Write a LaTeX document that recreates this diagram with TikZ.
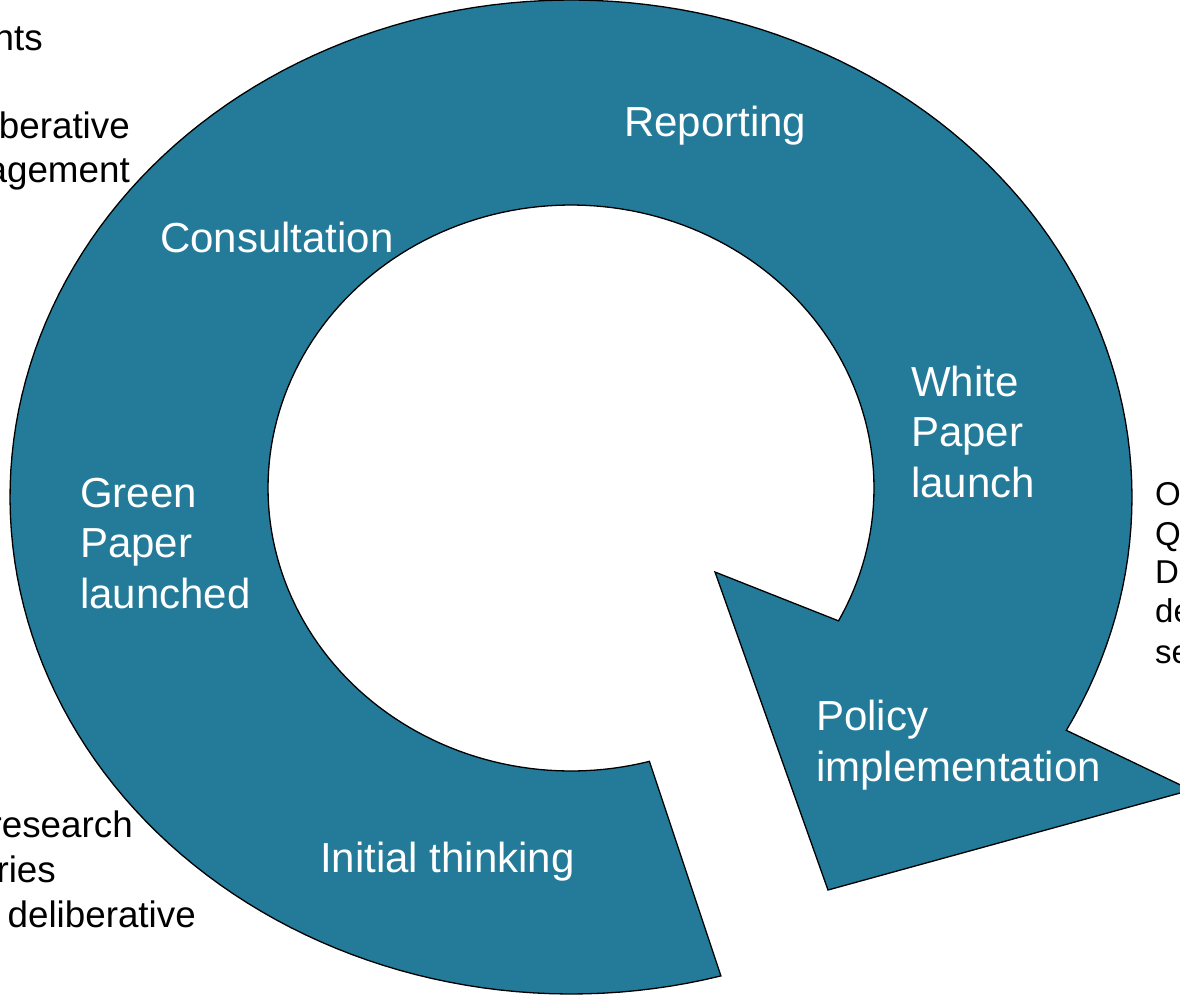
\documentclass[tikz,border=0pt]{standalone}
\usepackage{fontspec}
\setmainfont{Liberation Sans}
\usepackage{tikz}

\definecolor{ringblue}{RGB}{35,123,153}

\begin{document}
\begin{tikzpicture}[x=1pt,y=-1pt,
		stage/.style={text=white,font=\fontsize{42}{50.5}\selectfont,align=left,inner sep=0pt},
		note/.style={text=black,font=\fontsize{36.8}{44}\selectfont,inner sep=0pt},
		sidenote/.style={text=black,font=\fontsize{33}{39.5}\selectfont,inner sep=0pt}]
		\useasboundingbox (0,0) rectangle (1180,997);
		\begin{scope}                           % clip to the page
			\clip (0,0) rectangle (1180,997);
			\filldraw[fill=ringblue, draw=black, line width=1.3pt, line join=miter]
				plot[domain=74.5:388, samples=180] ({571+561*cos(\x)},{497+497*sin(\x)})
				-- (1191,790) -- (828,890) -- (715,572)
				-- plot[domain=388:75, samples=180] ({571+303*cos(\x)},{488+283*sin(\x)})
				-- cycle;
		\end{scope}
		% stages (base = last line)
		\node[stage, anchor=base west] (reporting) at (624,136) {Reporting};
		\node[stage, anchor=base west] (consultation) at (160,252) {Consultation};
		\node[stage, anchor=base west] (whitepaper) at (911,497) {White\\Paper\\launch};
		\node[stage, anchor=base west] (greenpaper) at (80,608) {Green\\Paper\\launched};
		\node[stage, anchor=base west] (policy) at (816,781) {Policy\\implementation};
		\node[stage, anchor=base west] (initial) at (320,872) {Initial thinking};
		% cut-off notes
		\node[note, anchor=base east] (noteA) at (43,50) {nts};
		\node[note, anchor=base east] (noteB) at (130,138) {berative};
		\node[note, anchor=base east] (noteC) at (130,182) {agement};
		\node[note, anchor=base east] (noteD) at (133,837) {research};
		\node[note, anchor=base east] (noteE) at (56,882) {ries};
		\node[note, anchor=base east] (noteF) at (196,927) {deliberative};
		\node[sidenote, anchor=base west] (noteO) at (1155,505) {O};
		\node[sidenote, anchor=base west] (noteQ) at (1155,545) {Q};
		\node[sidenote, anchor=base west] (noteR) at (1155,583) {D};
		\node[sidenote, anchor=base west] (noteS) at (1155,622) {de};
		\node[sidenote, anchor=base west] (noteT) at (1155,663) {se};
\end{tikzpicture}
\end{document}
